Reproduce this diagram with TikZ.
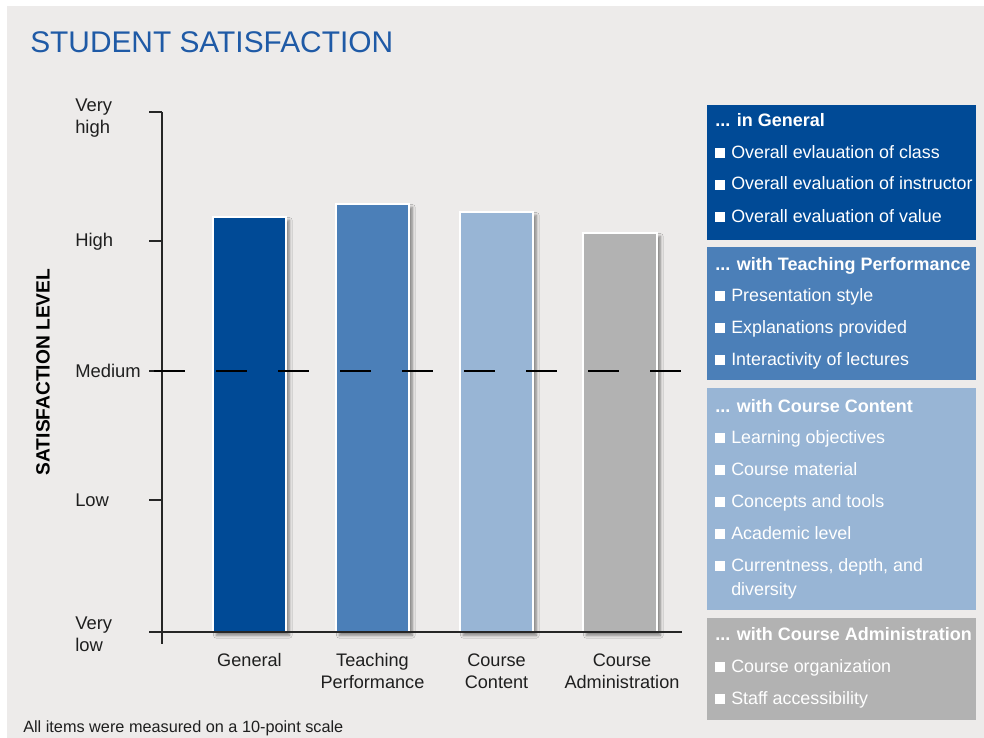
\documentclass[tikz,border=0pt]{standalone}
\usepackage{fontspec}
\setmainfont{Liberation Sans}
\usetikzlibrary{shadows.blur}

\definecolor{bggray}{HTML}{EDEBEA}
\definecolor{titleblue}{HTML}{1F5AA6}
\definecolor{darkblue}{HTML}{004A96}
\definecolor{midblue}{HTML}{4B7FB8}
\definecolor{lightblue}{HTML}{98B5D5}
\definecolor{bargray}{HTML}{B2B2B2}

\tikzset{
	axisline/.style={draw=black!85, line width=1.1pt},
	medline/.style={draw=black, line width=0.9pt, dash pattern=on 23.25pt off 23.25pt},
	bar/.style={draw=white, line width=1.6pt, blur shadow={shadow xshift=2.5pt, shadow yshift=-2.5pt, shadow blur steps=6, shadow opacity=45}},
	lvl/.style={inner sep=0pt, anchor=base west, text=black!88, align=left, font=\fontsize{13.8}{16}\selectfont},
	cat/.style={inner sep=0pt, anchor=base, text=black!88, align=center, font=\fontsize{13.6}{16.5}\selectfont},
	phead/.style={inner sep=0pt, anchor=base west, text=white, font=\fontsize{13.5}{16}\selectfont\bfseries},
	pitem/.style={inner sep=0pt, anchor=base west, text=white, align=left, font=\fontsize{13.4}{18}\selectfont}
}

\begin{document}
\begin{tikzpicture}[x=0.75pt, y=-0.75pt]
	\useasboundingbox (0,0) rectangle (984,738);
	\fill[white] (0,0) rectangle (984,738);
	\fill[bggray] (7,6) rectangle (984,738); % Background.

	\node[anchor=base west, inner sep=0pt, text=titleblue, font=\fontsize{22.4}{26}\selectfont] (title) at (30,53) {STUDENT SATISFACTION};

	% Bars.
	\draw[bar, fill=darkblue] (213,217) rectangle (286,632);
	\draw[bar, fill=midblue] (336,204) rectangle (409,632);
	\draw[bar, fill=lightblue] (460,212) rectangle (533,632);
	\draw[bar, fill=bargray] (583,233) rectangle (657,632);

	% Axes.
	\coordinate (ytop) at (162,112);
	\coordinate (ybot) at (162,644);
	\coordinate (xl) at (149,632);
	\coordinate (xr) at (682,632);
	\draw[axisline] (ytop) -- (ybot);
	\draw[axisline] (xl) -- (xr);
	\foreach \y in {112,241,371,500}
		\draw[axisline] (149,\y) -- (162,\y);
	\draw[medline] (154,371) -- (682,371);

	% Level labels (base = last line).
	\node[lvl] (vhigh) at (75,133) {Very\\high};
	\node[lvl] (high) at (75,246) {High};
	\node[lvl] (med) at (75,377) {Medium};
	\node[lvl] (low) at (75,506) {Low};
	\node[lvl] (vlow) at (75,651) {Very\\low};

	\node[inner sep=0pt, rotate=90, font=\fontsize{14.4}{16}\selectfont\bfseries] (ylabel) at (43,372) {SATISFACTION LEVEL};

	\node[cat] (cgen) at (249.5,666) {General};
	\node[cat] (cteach) at (372.5,688) {Teaching\\Performance};
	\node[cat] (ccont) at (496.5,688) {Course\\Content};
	\node[cat] (cadm) at (622,688) {Course\\Administration};

	\node[anchor=base west, inner sep=0pt, text=black!88, font=\fontsize{12.2}{14}\selectfont] (note) at (23,732) {All items were measured on a 10-point scale};

	% Legend panels.
	\fill[darkblue] (707,105) rectangle (976,240);
	\fill[midblue] (707,247) rectangle (976,380);
	\fill[lightblue] (707,388) rectangle (976,610);
	\fill[bargray] (707,618) rectangle (976,720);

	\node[phead] (hgen) at (715,127) {... in General};
	\foreach \txt [count=\i] in {Overall evlauation of class, Overall evaluation of instructor, Overall evaluation of value} {
		\fill[white] (715,{126+32*\i-10}) rectangle (725,{126+32*\i});
		\node[pitem] (gen-\i) at (731,{126+32*\i}) {\txt};
	}

	\node[phead] (hteach) at (715,270) {... with Teaching Performance};
	\foreach \txt [count=\i] in {Presentation style, Explanations provided, Interactivity of lectures} {
		\fill[white] (715,{269+32*\i-10}) rectangle (725,{269+32*\i});
		\node[pitem] (teach-\i) at (731,{269+32*\i}) {\txt};
	}

	\node[phead] (hcont) at (715,412) {... with Course Content};
	\foreach \txt [count=\i] in {Learning objectives, Course material, Concepts and tools, Academic level} {
		\fill[white] (715,{411+32*\i-10}) rectangle (725,{411+32*\i});
		\node[pitem] (cont-\i) at (731,{411+32*\i}) {\txt};
	}
	\fill[white] (715,561) rectangle (725,571);
	\node[pitem] (cont-5) at (731,595) {Currentness, depth, and\\diversity};

	\node[phead] (hadm) at (715,640) {... with Course Administration};
	\foreach \txt [count=\i] in {Course organization, Staff accessibility} {
		\fill[white] (715,{640+32*\i-10}) rectangle (725,{640+32*\i});
		\node[pitem] (adm-\i) at (731,{640+32*\i}) {\txt};
	}
\end{tikzpicture}
\end{document}
